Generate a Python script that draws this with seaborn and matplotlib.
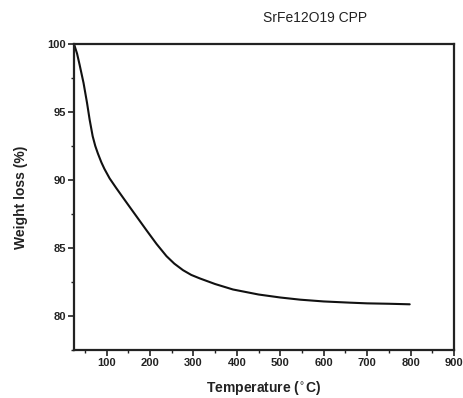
import matplotlib
matplotlib.use("Agg")
import matplotlib.pyplot as plt
import seaborn as sns
import pandas as pd
from matplotlib.ticker import MultipleLocator

# TGA curve of SrFe12O19 CPP
temperature = [25, 32, 38, 47, 55, 61, 68, 74, 80, 88, 95, 107, 122, 138, 153, 169,
               192, 215, 238, 256, 276, 295, 315, 350, 391, 450, 500, 546, 600, 661,
               700, 750, 798]
weight = [100.0, 99.3, 98.46, 97.13, 95.67, 94.44, 93.22, 92.5, 91.95, 91.3, 90.82,
          90.12, 89.42, 88.7, 88.03, 87.32, 86.3, 85.3, 84.4, 83.85, 83.37, 83.02, 82.76,
          82.35, 81.95, 81.58, 81.36, 81.2, 81.07, 80.98, 80.93, 80.9, 80.86]

x_ticks = [100, 200, 300, 400, 500, 600, 700, 800, 900]
y_ticks = [80, 85, 90, 95, 100]

sns.set_theme(style="white")
plt.rcParams["font.family"] = ["Liberation Sans", "DejaVu Sans"]

df = pd.DataFrame({"Temperature": temperature, "Weight": weight})

fig = plt.figure(figsize=(4.64, 3.98), dpi=100)
ax = fig.add_axes([74 / 464, 1 - 350 / 398, (454 - 74) / 464, (350 - 44) / 398])

sns.lineplot(data=df, x="Temperature", y="Weight", ax=ax, color="#111111",
             linewidth=1.5)

ax.set_xlim(25, 900)
ax.set_ylim(77.5, 100)
ax.set_xticks(x_ticks)
ax.set_yticks(y_ticks)
ax.xaxis.set_minor_locator(MultipleLocator(50))
ax.yaxis.set_minor_locator(MultipleLocator(2.5))

for side in ["left", "bottom", "top", "right"]:
    ax.spines[side].set_visible(True)
    ax.spines[side].set_color("#222222")
    ax.spines[side].set_linewidth(1.6)

ax.tick_params(axis="both", which="major", direction="out", length=4, width=1.2,
               colors="#222222", bottom=True, left=True, top=False, right=False,
               labelsize=8, pad=2)
ax.tick_params(axis="both", which="minor", direction="out", length=2.5, width=1.0,
               colors="#222222", bottom=True, left=True, top=False, right=False)
for lbl in ax.get_xticklabels() + ax.get_yticklabels():
    lbl.set_fontweight("bold")
    lbl.set_color("#222222")

ax.set_xlabel("Temperature ($^{\\circ}$C)", fontsize=10, fontweight="bold", labelpad=8,
              color="#222222")
ax.set_ylabel("Weight loss (%)", fontsize=10, fontweight="bold", labelpad=14,
              color="#222222")

fig.text(315 / 464, 1 - 18 / 398, "SrFe12O19 CPP", ha="center", va="center",
         fontsize=10, color="#222222")

fig.savefig("out.png", dpi=100, facecolor="white")
